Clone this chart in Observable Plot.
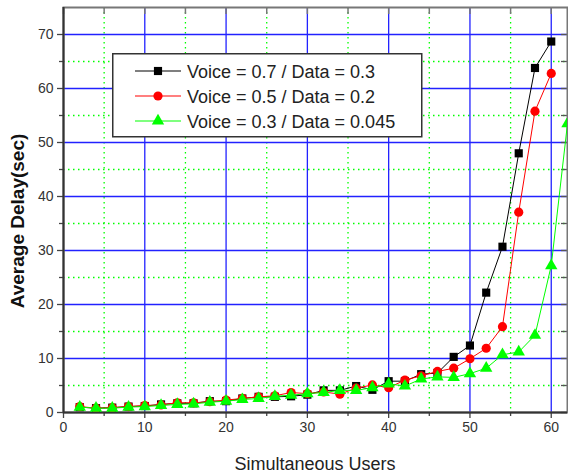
<!DOCTYPE html>
<html>
<head>
<meta charset="utf-8">
<script src="https://cdn.jsdelivr.net/npm/d3@7"></script>
<script src="https://cdn.jsdelivr.net/npm/@observablehq/plot@0.6"></script>
<style>
  body { margin: 0; background: #fff; }
  #wrap { position: relative; width: 568px; height: 474px; }
  #legend { position: absolute; left: 112px; top: 53px; }
</style>
</head>
<body>
<div id="wrap"></div>
<script>
// ---- data ----
const usersA = [2,4,6,8,10,12,14,16,18,20,22,24,26,28,30,32,34,36,38,40,42,44,46,48,50,52,54,56,58,60];
const delayV07 = [1.0,0.8,0.9,1.1,1.2,1.5,1.7,1.7,2.1,2.1,2.6,2.9,2.9,3.0,3.3,4.1,4.1,4.9,4.2,5.8,5.8,7.1,7.3,10.3,12.4,22.2,30.7,48.0,63.8,68.7];
const delayV05 = [1.1,0.8,0.9,1.1,1.3,1.4,1.8,1.8,2.0,2.3,2.6,2.9,3.1,3.7,3.5,3.8,3.4,4.5,5.1,4.6,6.0,6.8,7.6,8.2,9.95,11.9,15.9,37.1,55.8,62.8];
const usersB = [2,4,6,8,10,12,14,16,18,20,22,24,26,28,30,32,34,36,38,40,42,44,46,48,50,52,54,56,58,60,62];
const delayV03 = [1.0,0.8,0.8,1.0,1.1,1.3,1.5,1.6,1.9,2.1,2.4,2.6,3.0,3.2,3.5,3.7,4.1,4.1,4.6,5.3,4.9,6.2,6.6,6.5,7.2,8.2,10.7,11.2,14.3,27.2,53.5];

const seriesNames = ["Voice = 0.7 / Data = 0.3", "Voice = 0.5 / Data = 0.2", "Voice = 0.3 / Data = 0.045"];
const seriesColors = ["#000000", "#ff0000", "#00ff00"];
const seriesSymbols = ["square", "circle", "triangle"];

const xMajor = [0,10,20,30,40,50,60];
const xMinor = [5,15,25,35,45,55];
const yMajor = [0,10,20,30,40,50,60,70];
const yMinor = [5,15,25,35,45,55,65];
const xLabel = "Simultaneous Users";
const yLabel = "Average Delay(sec)";

const s1 = usersA.map((u,i) => ({u, d: delayV07[i]}));
const s2 = usersA.map((u,i) => ({u, d: delayV05[i]}));
const s3 = usersB.map((u,i) => ({u, d: delayV03[i]}));
const series = [s1, s2, s3];

const W = 568, H = 474, mL = 63, mR = 1, mT = 7, mB = 62;
const fw = W - mL - mR, fh = H - mT - mB;
const noText = () => "";

const marks = [
  Plot.ruleX(xMinor, {stroke: "#00ff00", strokeDasharray: "1.5,3.5", strokeWidth: 1.3}),
  Plot.ruleY(yMinor, {stroke: "#00ff00", strokeDasharray: "1.5,3.5", strokeWidth: 1.3}),
  Plot.ruleX(xMajor.filter(d => d > 0), {stroke: "#2222ff", strokeWidth: 1.3}),
  Plot.ruleY(yMajor.filter(d => d > 0), {stroke: "#2222ff", strokeWidth: 1.3}),
  // top & right inner ticks
  Plot.ruleX(xMajor.concat(xMinor), {stroke: "#777", strokeWidth: 1.5, insetBottom: fh - 7}),
  Plot.ruleY(yMajor.concat(yMinor), {stroke: "#555", strokeWidth: 1.3, insetLeft: fw - 6}),
  Plot.frame({stroke: "#777", strokeWidth: 2}),
  Plot.axisX(xMajor, {tickSize: 6, tickPadding: 4, fontSize: 14, stroke: "#444", strokeWidth: 1.3, label: null}),
  Plot.axisX(xMinor, {tickSize: 4, tickFormat: noText, stroke: "#444", strokeWidth: 1.3, label: null}),
  Plot.axisY(yMajor, {tickSize: 6, tickPadding: 4, fontSize: 14, stroke: "#444", strokeWidth: 1.3, label: null}),
  Plot.axisY(yMinor, {tickSize: 4, tickFormat: noText, stroke: "#444", strokeWidth: 1.3, label: null}),
  Plot.ruleX([0], {stroke: "#333", strokeWidth: 2}),
  Plot.ruleY([0], {stroke: "#333", strokeWidth: 2})
];
series.forEach((s, i) => {
  marks.push(Plot.line(s, {x: "u", y: "d", stroke: seriesColors[i], strokeWidth: 1, clip: true}));
  marks.push(Plot.dot(s, {x: "u", y: "d", fill: seriesColors[i], symbol: seriesSymbols[i], r: 4.6, stroke: "none", clip: true}));
});

const chart = Plot.plot({
  width: W, height: H,
  marginLeft: mL, marginRight: mR, marginTop: mT, marginBottom: mB,
  x: {domain: [0, 62]},
  y: {domain: [0, 75]},
  style: {fontFamily: "'Liberation Sans', Arial, sans-serif", fontSize: "14px", color: "#333", background: "white"},
  marks
});
document.getElementById("wrap").appendChild(chart);

const svg = d3.select(chart);
svg.append("text").text(xLabel)
  .attr("x", mL + fw / 2).attr("y", 470)
  .attr("text-anchor", "middle")
  .attr("font-size", 18).attr("fill", "#222")
  .attr("font-family", "'Liberation Sans', Arial, sans-serif");
svg.append("text").text(yLabel)
  .attr("transform", "translate(24,221) rotate(-90)")
  .attr("text-anchor", "middle")
  .attr("font-size", 19).attr("font-weight", "bold").attr("fill", "#111")
  .attr("font-family", "'Liberation Sans', Arial, sans-serif");

// legend
const leg = d3.select("#wrap").append("svg").attr("id", "legend")
  .attr("width", 311).attr("height", 85);
leg.append("rect").attr("x", 0.75).attr("y", 0.75).attr("width", 309).attr("height", 83)
  .attr("fill", "white").attr("stroke", "#333").attr("stroke-width", 1.5);
seriesNames.forEach((name, i) => {
  const cy = 18 + i * 25;
  leg.append("line").attr("x1", 23).attr("x2", 69).attr("y1", cy).attr("y2", cy)
    .attr("stroke", seriesColors[i]).attr("stroke-width", 1.2);
  const sym = {square: d3.symbolSquare, circle: d3.symbolCircle, triangle: d3.symbolTriangle}[seriesSymbols[i]];
  leg.append("path").attr("d", d3.symbol(sym, Math.PI * 4.6 * 4.6)())
    .attr("transform", `translate(46,${cy})`).attr("fill", seriesColors[i]);
  leg.append("text").text(name).attr("x", 75).attr("y", cy + 6.5)
    .attr("font-size", 18).attr("fill", "#222")
    .attr("font-family", "'Liberation Sans', Arial, sans-serif");
});
</script>
</body>
</html>
